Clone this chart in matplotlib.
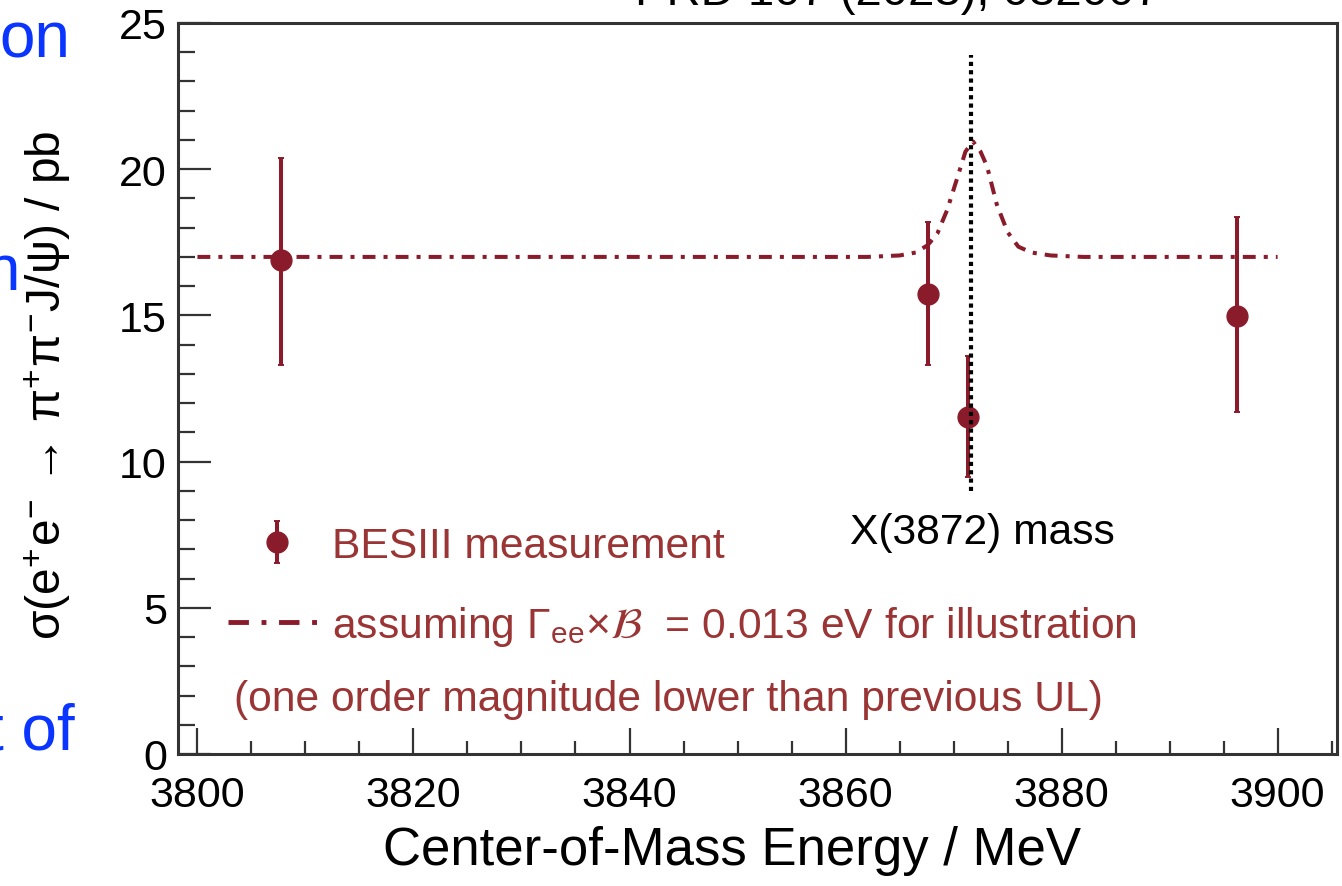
import matplotlib
matplotlib.use('Agg')
import matplotlib.pyplot as plt
from matplotlib.lines import Line2D
from matplotlib.ticker import MultipleLocator

# cross section of e+e- -> pi+pi- J/psi around the X(3872), in pb
energy = [3807.7, 3867.6, 3871.3, 3896.2]
sigma = [16.9, 15.72, 11.54, 14.97]
err_up = [3.5, 2.46, 2.06, 3.39]
err_down = [3.6, 2.4, 2.05, 3.26]

# line shape for Gamma_ee x B = 0.013 eV on top of a flat continuum
curve_e = [3800.0, 3862.0, 3865.0, 3866.5, 3867.6, 3868.5, 3869.4, 3870.3,
           3871.1, 3871.8, 3872.5, 3873.1, 3874.0, 3875.0, 3876.0, 3877.2,
           3879.0, 3882.0, 3900.0]
curve_sigma = [17.0, 17.0, 17.05, 17.15, 17.4, 17.8, 18.6, 19.65,
               20.6, 20.95, 20.6, 20.1, 18.8, 17.85, 17.35, 17.15,
               17.05, 17.0, 17.0]

x_mass = 3871.65
x_mass_span = (9.0, 23.9)

RED = '#8a1b2b'
TEXT_RED = '#9b3535'
BLUE = '#0a34ff'
NOTE_SIZE = 30.7

plt.rcParams['font.family'] = ['Liberation Sans', 'DejaVu Sans']
plt.rcParams['mathtext.fontset'] = 'stix'

fig = plt.figure(figsize=(13.42, 8.87), dpi=100)
ax = fig.add_axes([178 / 1342, 1 - 755 / 887, 1159 / 1342, 731 / 887])

pts = ax.errorbar(energy, sigma, yerr=[err_down, err_up], fmt='o',
                  color=RED, markersize=15, elinewidth=2.9, capsize=2,
                  capthick=1.4, zorder=4)
ax.plot(curve_e, curve_sigma, color=RED, lw=2.9,
        linestyle=(0, (3.2, 2.0, 1.0, 2.0)), zorder=3)
ax.vlines(x_mass, *x_mass_span, colors='black', lw=3.0,
          linestyles=(0, (1.0, 1.0)), zorder=5)

ax.set_xlim(3798.2, 3905.5)
ax.set_ylim(0, 25)
ax.xaxis.set_major_locator(MultipleLocator(20))
ax.xaxis.set_minor_locator(MultipleLocator(5))
ax.yaxis.set_major_locator(MultipleLocator(5))
ax.yaxis.set_minor_locator(MultipleLocator(1))
ax.tick_params(which='both', direction='in', top=False, right=False,
               width=1.6, color='#333333', labelsize=31)
ax.tick_params(axis='x', which='major', length=19, pad=15)
ax.tick_params(axis='x', which='minor', length=9.5)
ax.tick_params(axis='y', which='major', length=24, pad=8)
ax.tick_params(axis='y', which='minor', length=12)
for s in ax.spines.values():
    s.set_linewidth(2.2)
    s.set_color('#333333')

ax.set_xlabel('Center-of-Mass Energy / MeV', fontsize=38)
ax.xaxis.set_label_coords(0.478, -0.097)
fig.text(48 / 1342, 1 - 385 / 887,
         r'σ(e$^{\mathregular{+}}$e$^{\mathregular{-}}$ → '
         r'π$^{\mathregular{+}}$π$^{\mathregular{-}}$J/ψ) / pb',
         rotation=90, ha='center', va='center', fontsize=34.5)

ax.text(3860.4, 7.2, 'X(3872) mass', fontsize=NOTE_SIZE, color='black',
        ha='left', va='baseline')

# legend sample for the curve is drawn with longer dashes
curve_key = Line2D([], [], color=RED, lw=3.5,
                   linestyle=(0, (4.2, 2.6, 1.0, 2.6)))
leg = ax.legend([pts, curve_key],
                ['BESIII measurement',
                 r'assuming Γ$_{\mathregular{ee}}$×$\mathcal{B}$  = 0.013 eV for illustration'],
                loc='upper left', bbox_to_anchor=(0.043, 0.312),
                frameon=False, fontsize=NOTE_SIZE, labelcolor=TEXT_RED,
                handlelength=2.3, handletextpad=0.15, labelspacing=0.9,
                borderaxespad=0, borderpad=0)
ax.text(0.048, 0.075, '(one order magnitude lower than previous UL)',
        transform=ax.transAxes, fontsize=NOTE_SIZE, color=TEXT_RED,
        ha='left', va='center')

fig.text(635 / 1342, 1 - 5 / 887, 'PRD 107 (2023), 032007', fontsize=34,
         ha='left', va='baseline')

# pieces of the slide text next to the plot
fig.text(70 / 1342, 1 - 57 / 887, 'on', fontsize=46, color=BLUE,
         ha='right', va='baseline')
fig.text(20 / 1342, 1 - 290 / 887, 'n', fontsize=46, color=BLUE,
         ha='right', va='baseline')
fig.text(75 / 1342, 1 - 750 / 887, 't of', fontsize=46, color=BLUE,
         ha='right', va='baseline')

fig.savefig('out.png', dpi=100)
